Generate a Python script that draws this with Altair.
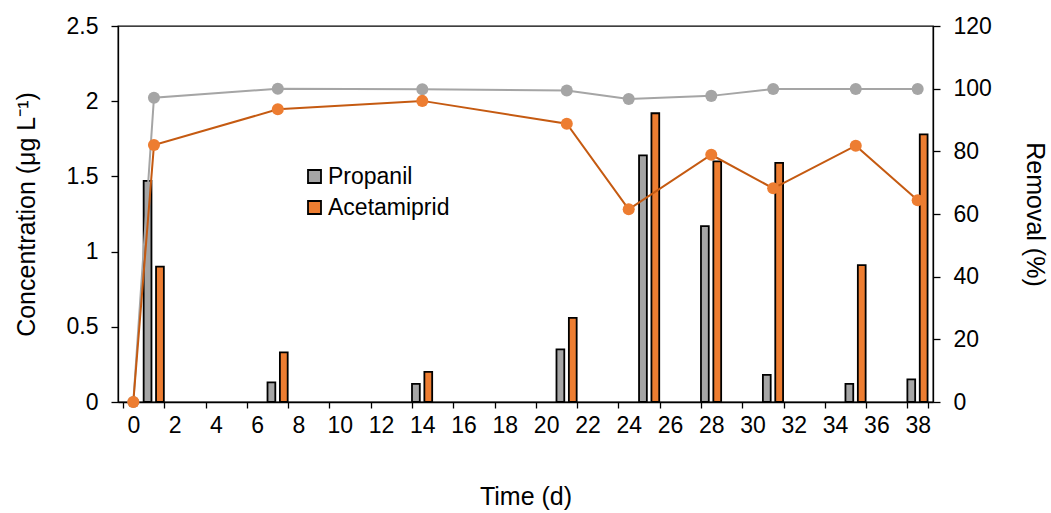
import altair as alt
import pandas as pd

# ---- data ----
bar_days = [1, 7, 14, 21, 25, 28, 31, 35, 38]
propanil_conc = [1.47, 0.13, 0.12, 0.35, 1.64, 1.17, 0.18, 0.12, 0.15]
acetamiprid_conc = [0.90, 0.33, 0.20, 0.56, 1.92, 1.60, 1.59, 0.91, 1.78]

removal_days = [0, 1, 7, 14, 21, 24, 28, 31, 35, 38]
propanil_removal = [0, 97.1, 100.0, 99.8, 99.4, 96.7, 97.7, 99.9, 99.9, 99.9]
acetamiprid_removal = [0, 82.0, 93.4, 96.1, 88.8, 61.5, 78.9, 68.2, 81.8, 64.4]

compounds = ["Propanil", "Acetamiprid"]
x_tick_labels = list(range(0, 39, 2))
conc_ticks = [0, 0.5, 1, 1.5, 2, 2.5]
removal_ticks = [0, 20, 40, 60, 80, 100, 120]

# ---- tables ----
bars = pd.DataFrame({
    "day": bar_days * 2,
    "compound": [compounds[0]] * len(bar_days) + [compounds[1]] * len(bar_days),
    "conc": propanil_conc + acetamiprid_conc,
})
removal = pd.DataFrame({
    "day": removal_days * 2,
    "compound": [compounds[0]] * len(removal_days) + [compounds[1]] * len(removal_days),
    "removal": propanil_removal + acetamiprid_removal,
})

FONT = "Liberation Sans"
GRAY = "#A5A5A5"
ORANGE = "#ED7D31"
ORANGE_LINE = "#C55A11"

xscale = alt.Scale(domain=[-0.5, 38.5], nice=False, zero=False)

label_axis = alt.Axis(orient="bottom", values=x_tick_labels, format="d",
                      ticks=False, labelFlush=False, labelOverlap=False,
                      labelPadding=12, title="Time (d)", titlePadding=47)
tick_axis = alt.Axis(orient="bottom", values=[v - 0.5 for v in x_tick_labels] + [38.5],
                     labels=False, domain=False, tickSize=6, title=None)

bar_layer = alt.Chart(bars).transform_calculate(
    xpos="datum.day + (datum.compound == 'Propanil' ? -0.31 : 0.29)"
).mark_bar(width=7.8, stroke="black", strokeWidth=1.8).encode(
    x=alt.X("xpos:Q", scale=xscale, axis=label_axis),
    y=alt.Y("conc:Q", scale=alt.Scale(domain=[0, 2.5], nice=False),
            axis=alt.Axis(orient="left", values=conc_ticks, format="~g",
                          tickSize=7, labelPadding=13,
                          title="Concentration (μg L⁻¹)", titlePadding=27)),
    color=alt.Color("compound:N",
                    scale=alt.Scale(domain=compounds, range=[GRAY, ORANGE]),
                    legend=alt.Legend(title=None, orient="none", legendX=185,
                                      legendY=139, symbolType="square",
                                      symbolSize=169, symbolStrokeColor="black",
                                      symbolStrokeWidth=1.8,
                                      labelFontSize=23, labelFont=FONT,
                                      labelColor="black", labelOffset=2,
                                      rowPadding=7, padding=0)),
)

yr = alt.Scale(domain=[0, 120], nice=False)
right_axis = alt.Axis(orient="right", values=removal_ticks, tickSize=7,
                      labelPadding=13, title="Removal (%)", titlePadding=30)


def series(name, line_color, point_color, first):
    base = alt.Chart(removal).transform_filter(alt.datum.compound == name)
    line = base.mark_line(color=line_color, strokeWidth=2).encode(
        x=alt.X("day:Q", scale=xscale, axis=tick_axis if first else None),
        y=alt.Y("removal:Q", scale=yr, axis=right_axis if first else None),
    )
    pts = base.mark_circle(color=point_color, opacity=1, size=145).encode(
        x=alt.X("day:Q", scale=xscale, axis=None),
        y=alt.Y("removal:Q", scale=yr, axis=None),
    )
    return [line, pts]


layers = [bar_layer] + series("Propanil", GRAY, GRAY, True) + \
    series("Acetamiprid", ORANGE_LINE, ORANGE, False)

chart = alt.layer(*layers).resolve_scale(
    y="independent"
).resolve_axis(
    x="independent", y="independent"
).properties(
    width=815, height=376,
    autosize="none",
    background="white",
    padding={"left": 118, "top": 26, "right": 118, "bottom": 111},
).configure_view(
    stroke="black", strokeWidth=1.3
).configure_axis(
    grid=False, domainColor="black", domainWidth=1.3, tickColor="black",
    tickWidth=1.3, labelColor="black", titleColor="black",
    labelFont=FONT, titleFont=FONT, labelFontSize=23, titleFontSize=25,
    titleFontWeight="normal",
)

chart.save("out.html", embed_options={"renderer": "svg", "actions": False})
